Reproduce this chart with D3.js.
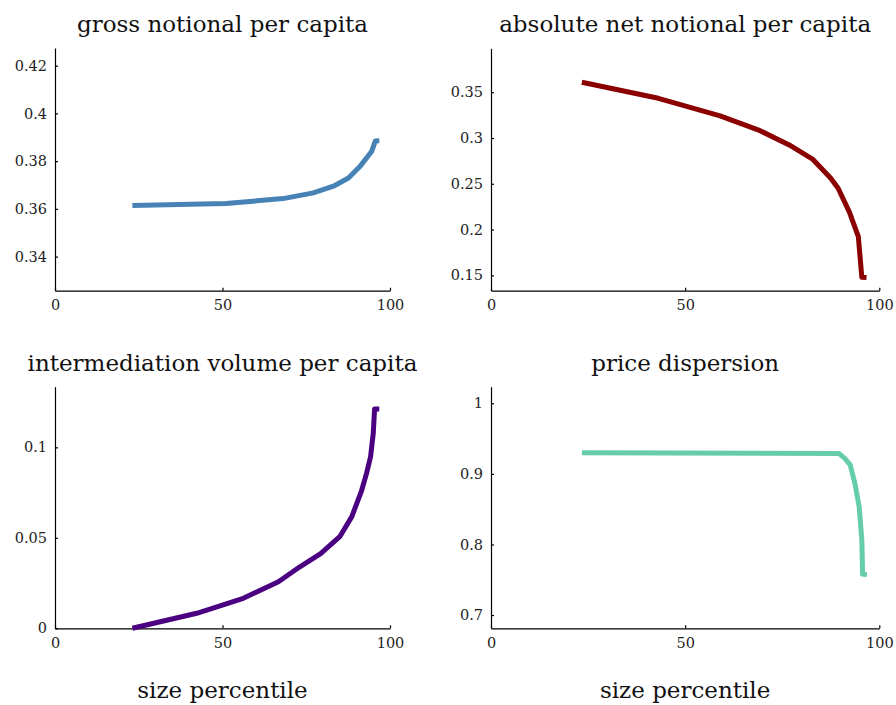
<!DOCTYPE html>
<html>
<head>
<meta charset="utf-8">
<script src="https://cdn.jsdelivr.net/npm/d3@7"></script>
<style>
  html, body { margin: 0; padding: 0; background: #fff; }
  svg { display: block; }
  .axis path, .axis line { stroke: #000; stroke-width: 1.2; }
  .axis text { font-family: "DejaVu Serif"; font-size: 14.5px; fill: #222; }
  .title { font-family: "DejaVu Serif"; font-size: 23px; fill: #111; }
</style>
</head>
<body>
<div id="chart"></div>
<script>
// size percentile (x) per panel
const grossX = [23.1, 51.0, 58.2, 68.1, 77.1, 83.1, 87.6, 91.0, 94.5, 95.6, 96.8];
const grossY = [0.3614, 0.3622, 0.3631, 0.3643, 0.3667, 0.3695, 0.3729, 0.3777, 0.3840, 0.3884, 0.3885];

const netX = [23.4, 43.1, 59.0, 69.3, 76.8, 82.8, 87.5, 89.4, 92.3, 94.6, 95.5, 96.7];
const netY = [0.3609, 0.3434, 0.3241, 0.3080, 0.2924, 0.2770, 0.2560, 0.2451, 0.2190, 0.1922, 0.1478, 0.1475];

const interX = [23.1, 42.3, 56.2, 66.7, 73.1, 79.3, 85.0, 88.6, 91.5, 93.0, 94.2, 95.0, 95.4, 96.8];
const interY = [0.0, 0.0083, 0.0166, 0.0257, 0.0340, 0.0412, 0.0506, 0.0617, 0.0760, 0.0856, 0.0948, 0.1077, 0.1212, 0.1212];

const dispX = [23.4, 89.6, 91.1, 92.5, 93.7, 94.8, 95.5, 95.7, 96.8];
const dispY = [0.930, 0.929, 0.922, 0.9127, 0.887, 0.854, 0.8065, 0.758, 0.757];

const xTicks = [0, 50, 100];
const panelTitles = ["gross notional per capita", "absolute net notional per capita",
                     "intermediation volume per capita", "price dispersion"];
const xLabel = "size percentile";

const width = 896, height = 705;

// plot areas (pixels) and y ranges for each panel
const panels = [
    { x: grossX, y: grossY, title: panelTitles[0], color: "#4682b4",
      left: 55, right: 390, top: 48, bottom: 290.7,
      yDomain: [0.3257, 0.4274], yTicks: [0.34, 0.36, 0.38, 0.40, 0.42] },
    { x: netX, y: netY, title: panelTitles[1], color: "#8b0000",
      left: 491, right: 879.3, top: 48.3, bottom: 290.7,
      yDomain: [0.1332, 0.398], yTicks: [0.15, 0.2, 0.25, 0.3, 0.35] },
    { x: interX, y: interY, title: panelTitles[2], color: "#4b0082",
      left: 55, right: 390, top: 386.7, bottom: 628.3,
      yDomain: [0, 0.1335], yTicks: [0, 0.05, 0.1], xlabel: true },
    { x: dispX, y: dispY, title: panelTitles[3], color: "#66cdaa",
      left: 491, right: 879.3, top: 386.7, bottom: 628.3,
      yDomain: [0.6812, 1.0235], yTicks: [0.7, 0.8, 0.9, 1.0], xlabel: true }
];

const svg = d3.select("#chart")
    .append("svg")
    .attr("width", width)
    .attr("height", height);

const fmt = d3.format("~g");

panels.forEach(p => {
    const x = d3.scaleLinear().domain([0, 100]).range([p.left, p.right]);
    const y = d3.scaleLinear().domain(p.yDomain).range([p.bottom, p.top]);

    // eixos
    const gx = svg.append("g")
        .attr("class", "axis")
        .attr("transform", `translate(0,${p.bottom})`)
        .call(d3.axisBottom(x).tickValues(xTicks).tickFormat(fmt)
            .tickSizeInner(-3).tickSizeOuter(0).tickPadding(9));

    const gy = svg.append("g")
        .attr("class", "axis")
        .attr("transform", `translate(${p.left},0)`)
        .call(d3.axisLeft(y).tickValues(p.yTicks).tickFormat(fmt)
            .tickSizeInner(-3).tickSizeOuter(0).tickPadding(8));

    // d3 puts its own font attrs on the axis group; let the css win
    gx.attr("font-family", null).attr("font-size", null);
    gy.attr("font-family", null).attr("font-size", null);

    // linha
    const data = p.x.map((v, i) => ({ px: v, py: p.y[i] }));
    svg.append("path")
        .datum(data)
        .attr("fill", "none")
        .attr("stroke", p.color)
        .attr("stroke-width", 5)
        .attr("stroke-linejoin", "round")
        .attr("d", d3.line().x(d => x(d.px)).y(d => y(d.py)));

    // título
    const cx = (p.left + p.right) / 2;
    svg.append("text")
        .attr("class", "title")
        .attr("x", cx)
        .attr("y", p.top - 16)
        .attr("text-anchor", "middle")
        .text(p.title);

    if (p.xlabel) {
        svg.append("text")
            .attr("class", "title")
            .attr("x", cx)
            .attr("y", p.bottom + 70)
            .attr("text-anchor", "middle")
            .text(xLabel);
    }
});
</script>
</body>
</html>
